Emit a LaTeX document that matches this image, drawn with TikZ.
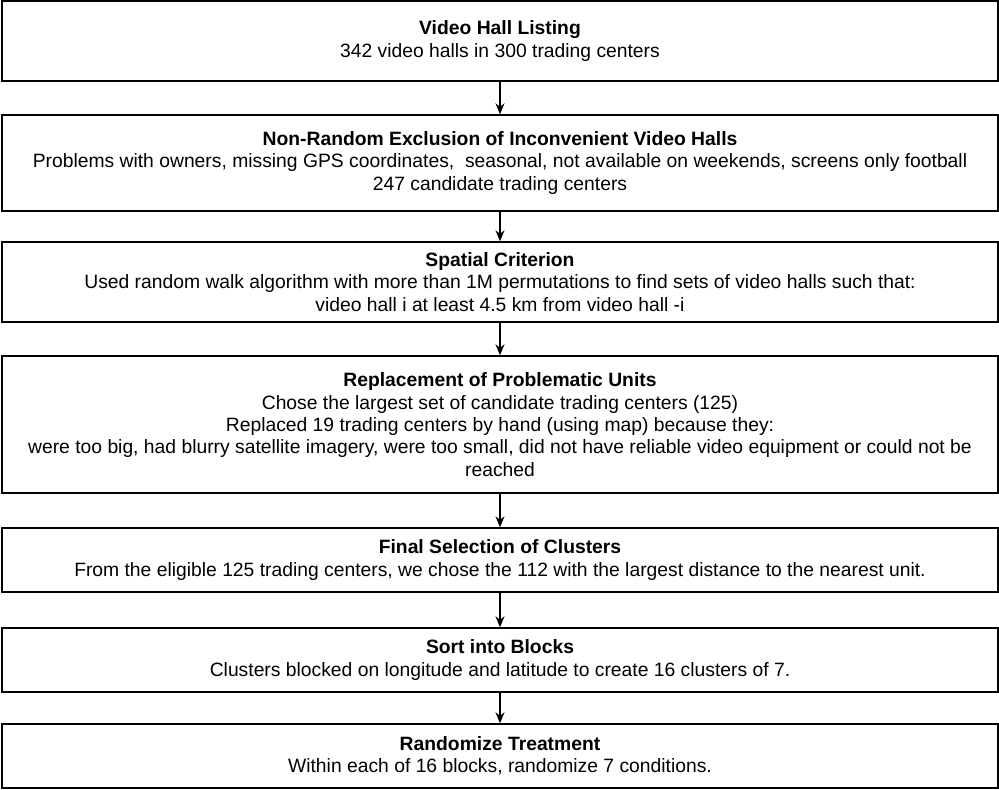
\documentclass[tikz,border=0pt]{standalone}
\usepackage{fontspec}
\setmainfont{Liberation Sans}
\usetikzlibrary{arrows.meta}

\tikzset{
  stage/.style={draw, line width=1.4pt, minimum width=996pt, align=center,
    inner sep=0pt, font=\fontsize{19.3}{22.4}\selectfont},
  flow/.style={-{Stealth[length=11pt,width=9pt]}, line width=1.2pt},
}

\begin{document}
\begin{tikzpicture}[x=1pt,y=-1pt]
\useasboundingbox (0,0) rectangle (999,790);

% stages
\node[stage, minimum height=80pt] (listing) at (500,41)
  {\textbf{Video Hall Listing}\\342 video halls in 300 trading centers};
\node[stage, minimum height=96pt] (exclusion) at (500,163)
  {\textbf{Non-Random Exclusion of Inconvenient Video Halls}\\
   Problems with owners, missing GPS coordinates,~ seasonal, not available on weekends, screens only football\\
   247 candidate trading centers};
\node[stage, minimum height=80pt] (spatial) at (500,282)
  {\textbf{Spatial Criterion}\\
   Used random walk algorithm with more than 1M permutations to find sets of video halls such that:\\
   video hall i at least 4.5 km from video hall -i};
\node[stage, minimum height=137pt] (replace) at (500,424.5)
  {\textbf{Replacement of Problematic Units}\\
   Chose the largest set of candidate trading centers (125)\\
   Replaced 19 trading centers by hand (using map) because they:\\
   were too big, had blurry satellite imagery, were too small, did not have reliable video equipment or could not be\\
   reached};
\node[stage, minimum height=64pt] (final) at (500,560)
  {\textbf{Final Selection of Clusters}\\
   From the eligible 125 trading centers, we chose the 112 with the largest distance to the nearest unit.};
\node[stage, minimum height=64pt] (blocks) at (500,660)
  {\textbf{Sort into Blocks}\\
   Clusters blocked on longitude and latitude to create 16 clusters of 7.};
\node[stage, minimum height=64pt] (treat) at (500,756)
  {\textbf{Randomize Treatment}\\
   Within each of 16 blocks, randomize 7 conditions.};

% arrows
\draw[flow] (listing) -- (exclusion);
\draw[flow] (exclusion) -- (spatial);
\draw[flow] (spatial) -- (replace);
\draw[flow] (replace) -- (final);
\draw[flow] (final) -- (blocks);
\draw[flow] (blocks) -- (treat);
\end{tikzpicture}
\end{document}
